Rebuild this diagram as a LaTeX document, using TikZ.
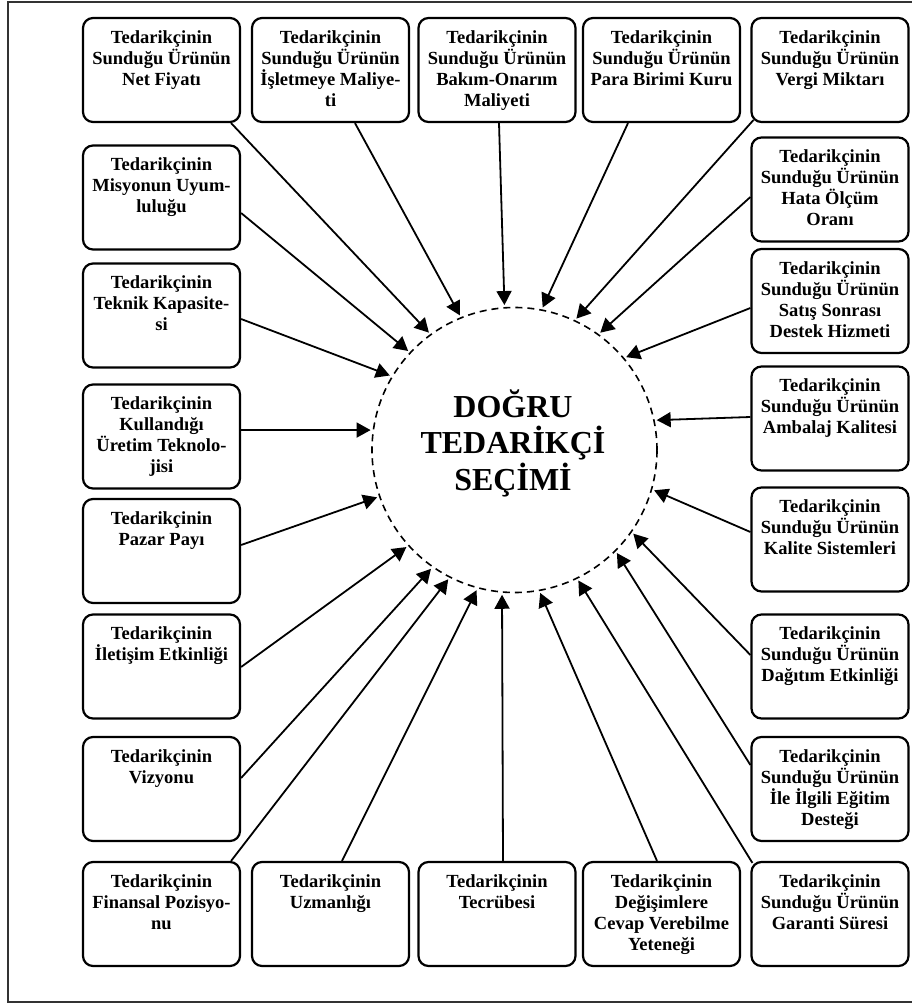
\documentclass[tikz,border=0pt]{standalone}
\usepackage{fontspec}
\setmainfont{Liberation Serif}
\usetikzlibrary{arrows.meta}

\newcommand{\boxtxt}[1]{\parbox[c][104pt][t]{154pt}{\centering\rule{0pt}{25.3pt}#1}}

\begin{document}
\begin{tikzpicture}[x=1pt,y=-1pt,
  crit/.style={draw,rounded corners=10pt,line width=2.2pt,minimum width=157pt,minimum height=104pt,inner sep=0pt,font=\fontsize{18.5}{21}\selectfont\bfseries},
  arr/.style={line width=1.8pt,shorten >=2pt,-{Triangle[length=14pt,width=15pt]}}]
  \useasboundingbox (0,0) rectangle (912,1004);
  % Frame
  \draw[line width=1.5pt,black!80] (916,1002) -- (8,1002) -- (8,2) -- (916,2);
  % Centre
  \node[draw,circle,dashed,dash pattern=on 7pt off 5pt,line width=1.6pt,minimum size=285pt] (sel) at (514.5,450) {};
  \node[font=\fontsize{32}{36.5}\selectfont\bfseries,align=center] (title) at (513,443) {DOĞRU\\TEDARİKÇİ\\SEÇİMİ};
  % Top row
  \node[crit] (netfiyat) at (161.5,70) {\boxtxt{Tedarikçinin\\Sunduğu Ürünün\\Net Fiyatı}};
  \node[crit] (isletme) at (330.5,70) {\boxtxt{Tedarikçinin\\Sunduğu Ürünün\\İşletmeye Maliye-\\ti}};
  \node[crit] (bakim) at (497,70) {\boxtxt{Tedarikçinin\\Sunduğu Ürünün\\Bakım-Onarım\\Maliyeti}};
  \node[crit] (kur) at (661.5,70) {\boxtxt{Tedarikçinin\\Sunduğu Ürünün\\Para Birimi Kuru}};
  \node[crit] (vergi) at (830,70) {\boxtxt{Tedarikçinin\\Sunduğu Ürünün\\Vergi Miktarı}};
  % Right column
  \node[crit] (hata) at (830,189.5) {\boxtxt{Tedarikçinin\\Sunduğu Ürünün\\Hata Ölçüm\\Oranı}};
  \node[crit] (satis) at (830,301) {\boxtxt{Tedarikçinin\\Sunduğu Ürünün\\Satış Sonrası\\Destek Hizmeti}};
  \node[crit] (ambalaj) at (830,418.5) {\boxtxt{Tedarikçinin\\Sunduğu Ürünün\\Ambalaj Kalitesi}};
  \node[crit] (kalite) at (830,539.5) {\boxtxt{Tedarikçinin\\Sunduğu Ürünün\\Kalite Sistemleri}};
  \node[crit] (dagitim) at (830,666.5) {\boxtxt{Tedarikçinin\\Sunduğu Ürünün\\Dağıtım Etkinliği}};
  \node[crit] (egitim) at (830,789) {\boxtxt{Tedarikçinin\\Sunduğu Ürünün\\İle İlgili Eğitim\\Desteği}};
  \node[crit] (garanti) at (830,914) {\boxtxt{Tedarikçinin\\Sunduğu Ürünün\\Garanti Süresi}};
  % Bottom row
  \node[crit] (finans) at (161.5,914) {\boxtxt{Tedarikçinin\\Finansal Pozisyo-\\nu}};
  \node[crit] (uzman) at (330.5,914) {\boxtxt{Tedarikçinin\\Uzmanlığı}};
  \node[crit] (tecrube) at (497,914) {\boxtxt{Tedarikçinin\\Tecrübesi}};
  \node[crit] (cevap) at (661.5,914) {\boxtxt{Tedarikçinin\\Değişimlere\\Cevap Verebilme\\Yeteneği}};
  % Left column
  \node[crit] (misyon) at (161.5,197.5) {\boxtxt{Tedarikçinin\\Misyonun Uyum-\\luluğu}};
  \node[crit] (teknik) at (161.5,315.5) {\boxtxt{Tedarikçinin\\Teknik Kapasite-\\si}};
  \node[crit] (teknoloji) at (161.5,436.5) {\boxtxt{Tedarikçinin\\Kullandığı\\Üretim Teknolo-\\jisi}};
  \node[crit] (pazar) at (161.5,551) {\boxtxt{Tedarikçinin\\Pazar Payı}};
  \node[crit] (iletisim) at (161.5,666.5) {\boxtxt{Tedarikçinin\\İletişim Etkinliği}};
  \node[crit] (vizyon) at (161.5,789) {\boxtxt{Tedarikçinin\\Vizyonu}};
  % Arrows
  \draw[arr] ([xshift=-10pt]netfiyat.south east) -- (sel.126.4);
  \draw[arr] ([xshift=24.5pt]isletme.south) -- (sel.112.9);
  \draw[arr] ([xshift=2pt]bakim.south) -- (sel.94.4);
  \draw[arr] ([xshift=-33.5pt]kur.south) -- (sel.79.9);
  \draw[arr] ([xshift=3pt,yshift=3pt]vergi.south west) -- (sel.65);
  \draw[arr] ([yshift=-7.5pt]hata.west) -- (sel.54.3);
  \draw[arr] ([yshift=-7pt]satis.west) -- (sel.40.4);
  \draw[arr] ([yshift=1.5pt]ambalaj.west) -- (sel.12.2);
  \draw[arr] ([yshift=7.5pt]kalite.west) -- (sel.344.2);
  \draw[arr] ([yshift=11.5pt]dagitim.west) -- (sel.325.7);
  \draw[arr] ([yshift=24pt]egitim.west) -- (sel.315.6);
  \draw[arr] ([xshift=2pt,yshift=-2pt]garanti.north west) -- (sel.296.7);
  \draw[arr] ([xshift=-4.5pt]cevap.north) -- (sel.280);
  \draw[arr] ([xshift=6pt]tecrube.north) -- (sel.265.5);
  \draw[arr] ([xshift=11.5pt]uzman.north) -- (sel.255.4);
  \draw[arr] ([xshift=-10pt]finans.north east) -- (sel.243.6);
  \draw[arr] ([yshift=11pt]vizyon.east) -- (sel.235.4);
  \draw[arr] ([yshift=-0.5pt]iletisim.east) -- (sel.222.4);
  \draw[arr] ([yshift=6pt]pazar.east) -- (sel.199.5);
  \draw[arr] ([yshift=6.5pt]teknoloji.east) -- (sel.172.1);
  \draw[arr] ([yshift=-3.5pt]teknik.east) -- (sel.149.3);
  \draw[arr] ([yshift=-15.5pt]misyon.east) -- (sel.137.2);
\end{tikzpicture}
\end{document}
